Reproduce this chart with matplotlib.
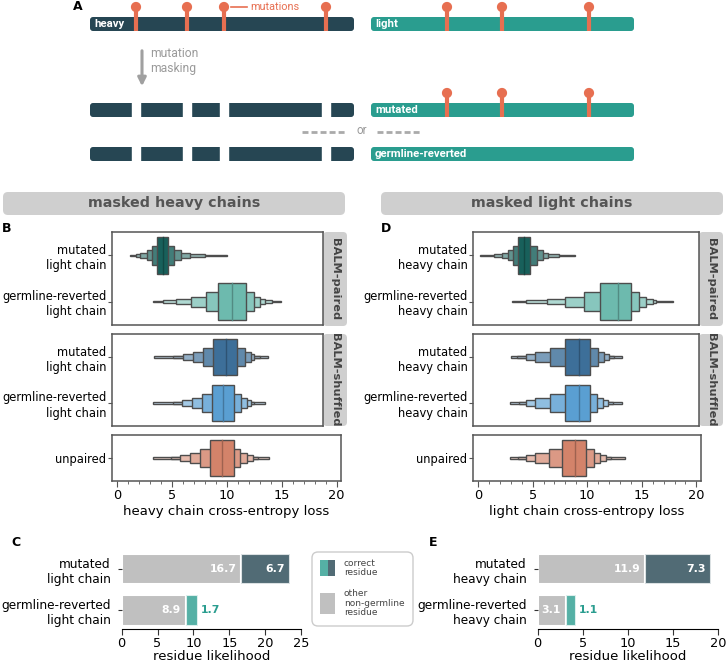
import matplotlib.pyplot as plt
import matplotlib.colors as mcolors
from matplotlib.patches import FancyBboxPatch, Rectangle, Circle
import numpy as np

plt.rcParams['lines.scale_dashes'] = False

W, H = 726, 663

# ---------------- data ----------------
heavy_rows = ['mutated\nlight chain', 'germline-reverted\nlight chain']
light_rows = ['mutated\nheavy chain', 'germline-reverted\nheavy chain']

# letter values (inner box -> outer tail) and medians
B_paired_med = [4.18, 10.5]
B_paired_lv = [[(3.64, 4.64), (3.18, 5.18), (2.7, 5.8), (2.1, 6.6), (1.7, 8.0), (1.2, 10.0)],
               [(9.2, 11.7), (8.06, 12.45), (6.7, 13.0), (5.36, 13.5), (4.2, 14.06), (3.3, 14.9)]]
B_shuf_med = [9.88, 9.67]
B_shuf_lv = [[(8.76, 10.88), (7.85, 11.64), (6.88, 12.15), (5.97, 12.5), (5.1, 13.0), (3.4, 13.75)],
             [(8.67, 10.67), (7.7, 11.24), (6.85, 11.8), (5.9, 12.15), (5.06, 12.5), (3.3, 13.5)]]
B_unp_med = [9.57]
B_unp_lv = [[(8.45, 10.64), (7.55, 11.24), (6.64, 11.85), (5.73, 12.4), (4.88, 12.85), (3.3, 13.85)]]

D_paired_med = [4.18, 12.82]
D_paired_lv = [[(3.66, 4.73), (3.2, 5.4), (2.75, 5.95), (2.23, 6.41), (1.5, 7.4), (0.15, 8.9)],
               [(11.2, 14.04), (9.68, 14.74), (7.94, 15.4), (6.32, 16.0), (4.4, 16.3), (3.14, 17.9)]]
D_shuf_med = [9.22, 9.25]
D_shuf_lv = [[(8.0, 10.22), (6.63, 11.0), (5.25, 11.5), (4.42, 11.97), (3.6, 12.5), (3.0, 13.2)],
             [(8.0, 10.22), (6.56, 10.9), (5.2, 11.45), (4.37, 11.9), (3.75, 12.36), (2.9, 13.2)]]
D_unp_med = [8.85]
D_unp_lv = [[(7.69, 9.92), (6.47, 10.62), (5.25, 11.2), (4.43, 11.75), (3.66, 12.2), (2.9, 13.5)]]

C_other = [16.7, 8.9]
C_correct = [6.7, 1.7]
E_other = [11.9, 3.1]
E_correct = [7.3, 1.1]

heavy_mut_pos = [136, 187, 224, 326]
light_mut_pos = [447, 502, 589]

# colours
c_heavy = '#264653'
c_light = '#2a9d8f'
c_mut = '#e76f51'
c_paired = ['#18605b', '#6dbaae']
c_shuf = ['#3d6f99', '#5a9fd2']
c_unp = ['#d3836a']
c_grey = '#c0c0c0'

fs_tick = 8.3
fs_lab = 9.5

fig = plt.figure(figsize=(W / 100, H / 100), dpi=100)

# overlay in pixel coordinates for the schematic and decorations
ov = fig.add_axes([0, 0, 1, 1])
ov.set_xlim(0, W)
ov.set_ylim(H, 0)
ov.axis('off')


def rbar(x0, x1, y0, y1, color, r=3):
    ov.add_patch(FancyBboxPatch((x0, y0), x1 - x0, y1 - y0,
                                boxstyle='round,pad=0,rounding_size=%g' % r,
                                fc=color, ec='none', zorder=2))


def pins(xs, ytop, ybot):
    for x in xs:
        ov.plot([x, x], [ytop, ybot], color=c_mut, lw=3, solid_capstyle='butt', zorder=4)
        ov.add_patch(Circle((x, ytop), 4.4, color=c_mut, zorder=5))


def gaps(xs, y0, y1):
    for x in xs:
        ov.add_patch(Rectangle((x - 4, y0 - 1), 8, y1 - y0 + 2, color='white', zorder=3))


fa = 'Roboto'
fs_bar = 8.2
# panel A
ov.text(78, 7, 'A', fontsize=9, fontweight='bold', ha='center', va='center')
rbar(90, 354, 17, 31, c_heavy)
rbar(371, 634, 17, 31, c_light)
pins(heavy_mut_pos, 7, 31)
pins(light_mut_pos, 7, 31)
ov.text(94, 24, 'heavy', color='white', fontsize=fs_bar, fontweight='bold', family=fa, va='center')
ov.text(375, 24, 'light', color='white', fontsize=fs_bar, fontweight='bold', family=fa, va='center')
ov.plot([231, 247], [7, 7], color=c_mut, lw=1.2)
ov.text(250, 7, 'mutations', color=c_mut, fontsize=7.8, family=fa, va='center')

ov.annotate('', xy=(142, 89), xytext=(142, 48),
            arrowprops=dict(arrowstyle='-|>', color='#a0a0a0', lw=2.2, mutation_scale=12))
ov.text(150, 61, 'mutation\nmasking', color='#9a9a9a', fontsize=8.7, family=fa,
        va='center', linespacing=1.15)

rbar(90, 354, 103, 117, c_heavy)
gaps(heavy_mut_pos, 103, 117)
rbar(371, 634, 103, 117, c_light)
pins(light_mut_pos, 93, 117)
ov.text(375, 110, 'mutated', color='white', fontsize=fs_bar, fontweight='bold', family=fa, va='center')

ov.plot([302, 347], [132, 132], color='#aaaaaa', lw=2, dashes=(4.3, 2.2))
ov.plot([377, 422], [132, 132], color='#aaaaaa', lw=2, dashes=(4.3, 2.2))
ov.text(362, 131, 'or', color='#9a9a9a', fontsize=8.5, family=fa, ha='center', va='center')

rbar(90, 354, 147, 161, c_heavy)
gaps(heavy_mut_pos, 147, 161)
rbar(371, 634, 147, 161, c_light)
ov.text(375, 154, 'germline-reverted', color='white', fontsize=fs_bar, fontweight='bold', family=fa,
        va='center')

# headers
for (x0, x1, txt) in [(3, 345, 'masked heavy chains'), (381, 723, 'masked light chains')]:
    ov.add_patch(FancyBboxPatch((x0, 192), x1 - x0, 23, boxstyle='round,pad=0,rounding_size=5',
                                fc='#cfcfcf', ec='none'))
    ov.text((x0 + x1) / 2, 203.5, txt, fontsize=10.3, fontweight='bold', color='#555555',
            ha='center', va='center')

# strips
for sx in [323, 699]:
    for (y0, y1, txt) in [(232, 326, 'BALM-paired'), (334, 426, 'BALM-shuffled')]:
        ov.add_patch(FancyBboxPatch((sx, y0), 24, y1 - y0, boxstyle='round,pad=0,rounding_size=4',
                                    fc='#cfcfcf', ec='none'))
        ov.text(sx + 12, (y0 + y1) / 2, txt, rotation=270, fontsize=8.2, fontweight='bold',
                color='#444444', ha='center', va='center')

# panel letters
for (x, y, t) in [(7, 229, 'B'), (386, 229, 'D'), (16, 543, 'C'), (433, 543, 'E')]:
    ov.text(x, y, t, fontsize=9, fontweight='bold', ha='center', va='center')

# legend
ov.add_patch(FancyBboxPatch((312, 552), 101, 74, boxstyle='round,pad=0,rounding_size=6',
                            fc='white', ec='#cccccc', lw=1))
ov.add_patch(Rectangle((320, 560), 7.5, 16, fc=c_light, alpha=0.8, ec='none'))
ov.add_patch(Rectangle((327.5, 560), 7.5, 16, fc=c_heavy, alpha=0.8, ec='none'))
ov.add_patch(Rectangle((320, 593), 15, 21, fc=c_grey, ec='none'))
ov.text(344, 568, 'correct\nresidue', fontsize=6.5, color='#444444', va='center', linespacing=1.05)
ov.text(344, 603, 'other\nnon-germline\nresidue', fontsize=6.5, color='#444444', va='center',
        linespacing=1.05)


def px_axes(x0, y0, x1, y1):
    return fig.add_axes([x0 / W, 1 - y1 / H, (x1 - x0) / W, (y1 - y0) / H])


fracs = [0.8, 0.4, 0.22, 0.11, 0.06, 0.025]
shade = [0, 0.18, 0.32, 0.45, 0.55, 0.65]


def boxen(ax, meds, levels, colors, labels, xlim, xaxis=False):
    for i, (med, lv, col) in enumerate(zip(meds, levels, colors)):
        base = np.array(mcolors.to_rgb(col))
        for k in range(len(lv) - 1, -1, -1):
            lo, hi = lv[k]
            fc = base + (1 - base) * shade[k]
            ax.barh(i, hi - lo, left=lo, height=fracs[k], color=fc, edgecolor='#4d4d4d',
                    linewidth=1, zorder=2 + len(lv) - k)
        ax.plot([med, med], [i - 0.4, i + 0.4], color=base * 0.75, lw=1, zorder=20)
    ax.set_ylim(len(meds) - 0.5, -0.5)
    ax.set_xlim(*xlim)
    ax.set_yticks(range(len(labels)))
    ax.set_yticklabels(labels, fontsize=fs_tick)
    ax.tick_params(axis='y', length=3, color='#555555', pad=1)
    for s in ax.spines.values():
        s.set_color('#555555')
        s.set_linewidth(1.1)
    if xaxis:
        ax.set_xticks([0, 5, 10, 15, 20])
        ax.set_xticks(np.arange(0, 21, 1), minor=True)
        ax.tick_params(axis='x', labelsize=9.3, length=4, color='#555555', pad=2)
        ax.tick_params(axis='x', which='minor', length=2, color='#555555')
    else:
        ax.set_xticks([])


axBp = px_axes(112, 232, 323, 325)
boxen(axBp, B_paired_med, B_paired_lv, c_paired, heavy_rows, (-0.45, 18.73))
axBs = px_axes(112, 334, 323, 426)
boxen(axBs, B_shuf_med, B_shuf_lv, c_shuf, heavy_rows, (-0.45, 18.73))
axBu = px_axes(112, 435, 341, 481)
boxen(axBu, B_unp_med, B_unp_lv, c_unp, ['unpaired'], (-0.45, 20.4), xaxis=True)
axBu.set_xlabel('heavy chain cross-entropy loss', fontsize=fs_lab, labelpad=2)

axDp = px_axes(473, 232, 699, 325)
boxen(axDp, D_paired_med, D_paired_lv, c_paired, light_rows, (-0.46, 20.24))
axDs = px_axes(473, 334, 699, 426)
boxen(axDs, D_shuf_med, D_shuf_lv, c_shuf, light_rows, (-0.46, 20.24))
axDu = px_axes(473, 435, 701, 481)
boxen(axDu, D_unp_med, D_unp_lv, c_unp, ['unpaired'], (-0.46, 20.42), xaxis=True)
axDu.set_xlabel('light chain cross-entropy loss', fontsize=fs_lab, labelpad=2)


def stacked(ax, other, correct, labels, xmax):
    y = np.arange(len(other))
    ax.barh(y, other, height=0.75, color=c_grey, edgecolor='white', linewidth=1.5)
    ax.barh(y[:1], correct[:1], left=other[:1], height=0.75, color=c_heavy, alpha=0.8,
            edgecolor='white', linewidth=1.5)
    ax.barh(y[1:], correct[1:], left=other[1:], height=0.75, color=c_light, alpha=0.8,
            edgecolor='white', linewidth=1.5)
    kw = dict(textcoords='offset pixels', va='center', fontsize=7.8, fontweight='bold')
    for i in range(len(other)):
        ax.annotate('%.1f' % other[i], (other[i], i), xytext=(-5, 0), ha='right', color='white', **kw)
    ax.annotate('%.1f' % correct[0], (other[0] + correct[0], 0), xytext=(-5, 0), ha='right',
                color='white', **kw)
    ax.annotate('%.1f' % correct[1], (other[1] + correct[1], 1), xytext=(3, 0), ha='left',
                color=c_light, **kw)
    ax.set_ylim(1.46, -0.49)
    ax.set_xlim(0, xmax)
    ax.set_yticks(y)
    ax.set_yticklabels(labels, fontsize=fs_tick + 0.4)
    ax.set_xticks(np.arange(0, xmax + 1, 5))
    ax.tick_params(axis='x', labelsize=9.3, length=4, color='#333333', pad=2)
    ax.tick_params(axis='y', length=3, pad=5, color='#333333')
    for s in ['top', 'right', 'left']:
        ax.spines[s].set_visible(False)
    ax.spines['bottom'].set_bounds(0, xmax)
    ax.set_xlabel('residue likelihood', fontsize=fs_lab, labelpad=0)


axC = px_axes(121.7, 549, 301, 629)
stacked(axC, C_other, C_correct, heavy_rows, 25)
axE = px_axes(537.7, 549, 718.3, 629)
stacked(axE, E_other, E_correct, light_rows, 20)

fig.savefig('out.png', dpi=100)
